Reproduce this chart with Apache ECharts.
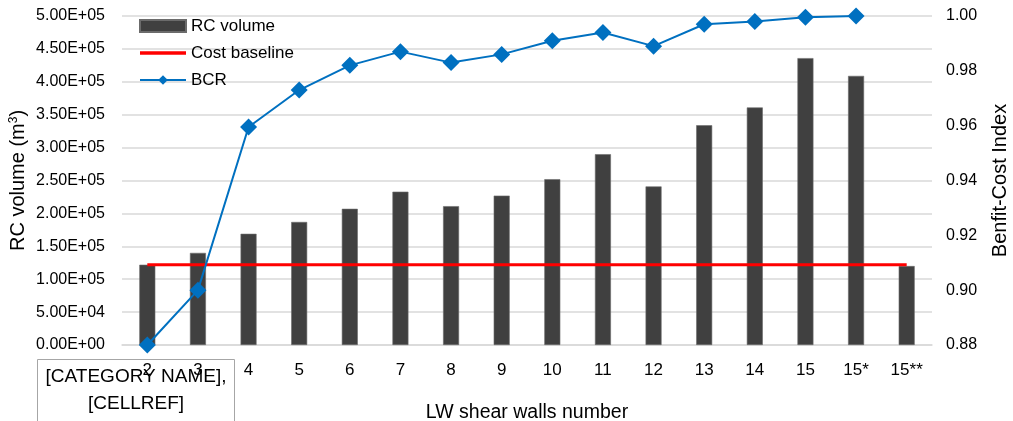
<!DOCTYPE html>
<html>
<head>
<meta charset="utf-8">
<script src="https://cdn.jsdelivr.net/npm/echarts@6/dist/echarts.min.js"></script>
<style>
  html, body { margin: 0; padding: 0; background: #fff; }
  #chart { width: 1013px; height: 421px; }
</style>
</head>
<body>
<div id="chart"></div>
<script>
// Number of LW shear walls per design variant
const categories = ['2', '3', '4', '5', '6', '7', '8', '9', '10', '11', '12', '13', '14', '15', '15*', '15**'];
// Reinforced concrete volume (m3)
const rcVolume = [122000, 140000, 169000, 187000, 207000, 233000, 211000, 227000, 252000, 290000, 241000, 334000, 361000, 436000, 409000, 120000];
// Baseline cost, expressed on the RC volume scale
const costBaseline = [122000, 122000, 122000, 122000, 122000, 122000, 122000, 122000, 122000, 122000, 122000, 122000, 122000, 122000, 122000, 122000];
// Benefit-cost ratio (no value for the last variant)
const bcr = [0.880, 0.900, 0.9595, 0.973, 0.982, 0.987, 0.983, 0.986, 0.991, 0.994, 0.989, 0.997, 0.998, 0.9995, 1.000, null];

const FONT = '"Liberation Sans", Arial, sans-serif';

function sciLabel(v) {
  const s = Number(v).toExponential(2).toUpperCase();
  const m = s.match(/^(-?[\d.]+)E([+-])(\d+)$/);
  if (!m) return s;
  const exp = m[3].length < 2 ? '0' + m[3] : m[3];
  return m[1] + 'E' + m[2] + exp;
}

const chart = echarts.init(document.getElementById('chart'), null, { renderer: 'canvas' });

chart.setOption({
  animation: false,
  backgroundColor: '#ffffff',
  textStyle: { fontFamily: FONT, color: '#000' },
  grid: { left: 122, right: 81, top: 16, bottom: 76, containLabel: false, outerBoundsMode: 'none' },
  legend: {
    orient: 'vertical',
    left: 139,
    top: 16,
    padding: 0,
    itemWidth: 46,
    itemHeight: 12,
    itemGap: 7,
    textStyle: { fontFamily: FONT, fontSize: 17, color: '#000', lineHeight: 20 },
    data: [
      { name: 'RC volume', icon: 'rect' },
      { name: 'Cost baseline', icon: 'path://M0,0 L46,0 L46,3.4 L0,3.4 Z' },
      { name: 'BCR' }
    ]
  },
  xAxis: {
    type: 'category',
    data: categories,
    boundaryGap: true,
    name: 'LW shear walls number',
    nameLocation: 'middle',
    nameGap: 58,
    nameTextStyle: { fontFamily: FONT, fontSize: 19.5, color: '#000' },
    axisLine: { show: true, lineStyle: { color: '#d9d9d9', width: 1.5 } },
    axisTick: { show: false },
    axisLabel: { fontFamily: FONT, fontSize: 17, color: '#000', margin: 17 }
  },
  yAxis: [
    {
      type: 'value',
      min: 0,
      max: 500000,
      interval: 50000,
      name: 'RC volume (m{sup|3})',
      nameLocation: 'middle',
      nameGap: 94,
      nameMoveOverlap: false,
      nameRotate: 90,
      nameTextStyle: {
        fontFamily: FONT, fontSize: 20, color: '#000',
        rich: { sup: { fontFamily: FONT, fontSize: 12, verticalAlign: 'top', padding: [0, 0, 8, 0], color: '#000' } }
      },
      axisLine: { show: false },
      axisTick: { show: false },
      axisLabel: { fontFamily: FONT, fontSize: 16, color: '#000', margin: 17, formatter: sciLabel },
      splitLine: { show: true, lineStyle: { color: '#d9d9d9', width: 1.5 } }
    },
    {
      type: 'value',
      min: 0.88,
      max: 1.00,
      interval: 0.02,
      name: 'Benfit-Cost Index',
      nameLocation: 'middle',
      nameGap: 58,
      nameRotate: 90,
      nameTextStyle: { fontFamily: FONT, fontSize: 20, color: '#000' },
      axisLine: { show: false },
      axisTick: { show: false },
      axisLabel: { fontFamily: FONT, fontSize: 16, color: '#000', margin: 14, formatter: v => v.toFixed(2) },
      splitLine: { show: false }
    }
  ],
  series: [
    {
      name: 'RC volume',
      type: 'bar',
      yAxisIndex: 0,
      data: rcVolume,
      barWidth: 16,
      itemStyle: { color: '#404040', borderColor: '#6b6b6b', borderWidth: 0.6 },
      z: 2
    },
    {
      name: 'Cost baseline',
      type: 'line',
      yAxisIndex: 0,
      data: costBaseline,
      symbol: 'none',
      lineStyle: { color: '#ff0000', width: 3 },
      itemStyle: { color: '#ff0000' },
      z: 3
    },
    {
      name: 'BCR',
      type: 'line',
      yAxisIndex: 1,
      data: bcr,
      symbol: 'diamond',
      symbolSize: 17,
      lineStyle: { color: '#0070c0', width: 2 },
      itemStyle: { color: '#0070c0' },
      z: 4
    }
  ],
  graphic: [
    {
      type: 'group',
      left: 37,
      top: 359,
      children: [
        {
          type: 'rect',
          shape: { x: 0, y: 0, width: 197, height: 62 },
          style: { fill: 'rgba(255,255,255,0)', stroke: '#a6a6a6', lineWidth: 1 }
        },
        {
          type: 'text',
          x: 98.5,
          y: 31,
          style: {
            text: '[CATEGORY NAME],\n[CELLREF]',
            font: '19px ' + FONT,
            fill: '#000',
            align: 'center',
            verticalAlign: 'middle',
            lineHeight: 27
          }
        }
      ]
    }
  ]
});
</script>
</body>
</html>
